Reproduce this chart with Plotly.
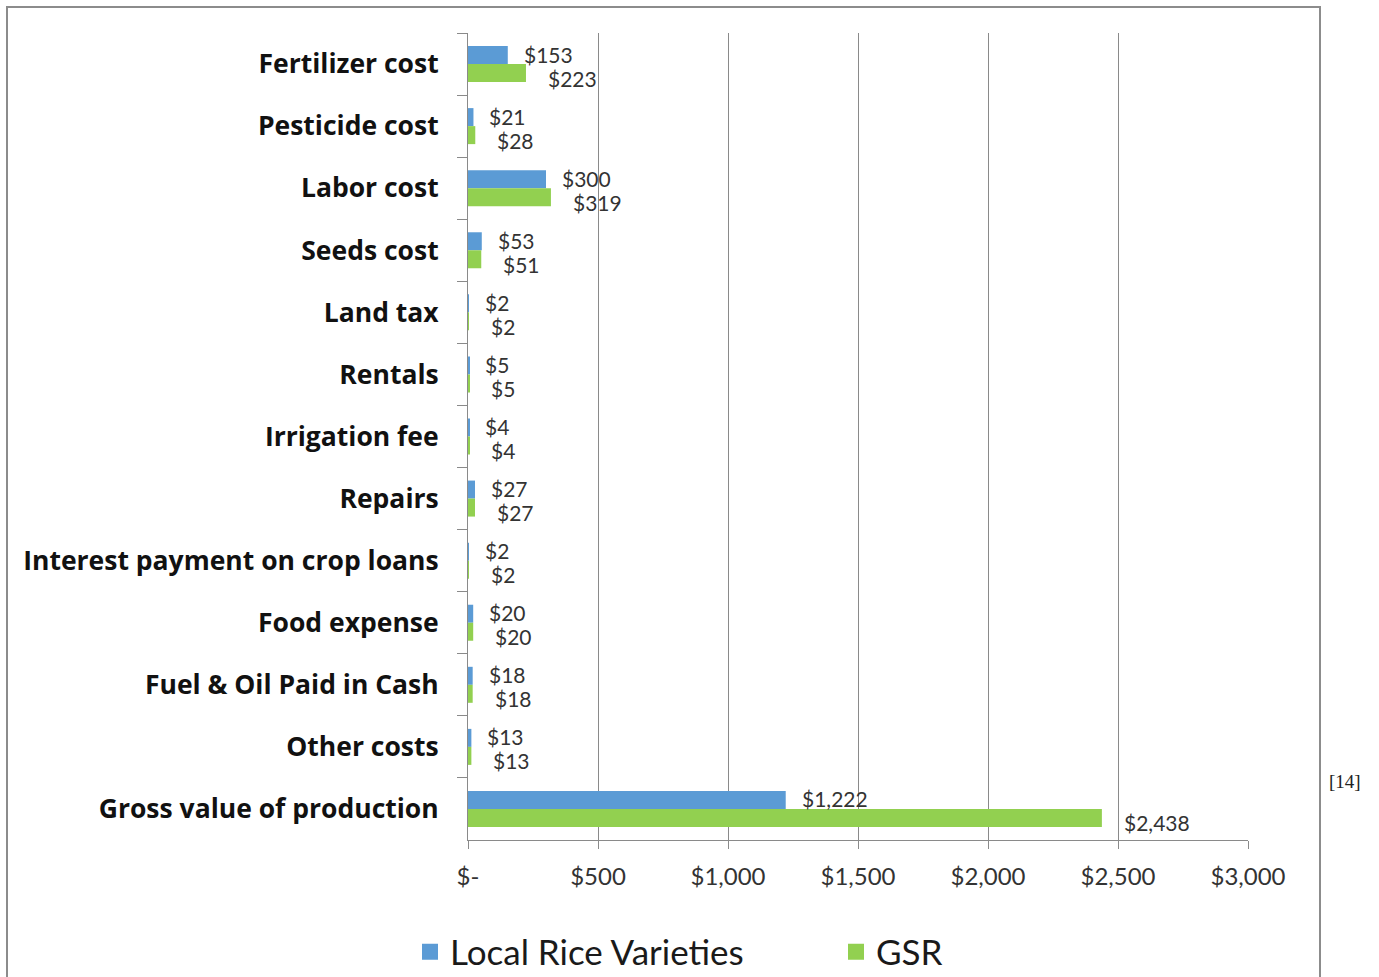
import plotly.graph_objects as go

# Cost items (top to bottom) and per-hectare values in USD
categories = [
    "Fertilizer cost", "Pesticide cost", "Labor cost", "Seeds cost", "Land tax",
    "Rentals", "Irrigation fee", "Repairs", "Interest payment on crop loans",
    "Food expense", "Fuel & Oil Paid in Cash", "Other costs", "Gross value of production",
]
local_rice = [153, 21, 300, 53, 2, 5, 4, 27, 2, 20, 18, 13, 1222]
gsr = [223, 28, 319, 51, 2, 5, 4, 27, 2, 20, 18, 13, 2438]

x_tick_vals = [0, 500, 1000, 1500, 2000, 2500, 3000]
x_tick_text = ["$-", "$500", "$1,000", "$1,500", "$2,000", "$2,500", "$3,000"]

BLUE = "#5B9BD5"
GREEN = "#92D050"
FONT = "Lato, 'Open Sans', sans-serif"
CAT_FONT = "'Open Sans', Lato, sans-serif"
W, H = 1379, 977
L, R, T, B = 468, 131, 33, 137
PW, PH = W - L - R, H - T - B


def px_x(p):
    return (p - L) / PW


def px_y(p):
    return (H - B - p) / PH


fig = go.Figure()
fig.add_trace(go.Bar(y=categories, x=local_rice, name="Local Rice Varieties",
                     orientation="h", showlegend=False,
                     marker=dict(color=BLUE, line=dict(width=0))))
fig.add_trace(go.Bar(y=categories, x=gsr, name="GSR",
                     orientation="h", showlegend=False,
                     marker=dict(color=GREEN, line=dict(width=0))))

# legend entries with larger square swatches
for name, color in [("Local Rice Varieties", BLUE), ("GSR", GREEN)]:
    fig.add_trace(go.Scatter(x=[None], y=[None], mode="markers", name=name,
                             marker=dict(symbol="square", size=20, color=color),
                             showlegend=True, hoverinfo="skip"))


def money(v):
    return f"${v:,}"


annotations = []
for cat, v in zip(categories, local_rice):
    annotations.append(dict(x=v, y=cat, text=money(v), xanchor="left", yanchor="middle",
                            xshift=14, yshift=10, showarrow=False,
                            font=dict(family=FONT, size=21, color="#333333")))
for cat, v in zip(categories, gsr):
    annotations.append(dict(x=v, y=cat, text=money(v), xanchor="left", yanchor="middle",
                            xshift=20, yshift=-14, showarrow=False,
                            font=dict(family=FONT, size=21, color="#333333")))

annotations.append(dict(xref="paper", yref="paper", x=px_x(1345), y=px_y(781),
                        text="[14]", showarrow=False, xanchor="center", yanchor="middle",
                        font=dict(family="Liberation Serif, serif", size=19, color="#222222")))

fig.update_layout(
    width=W, height=H,
    margin=dict(l=L, r=R, t=T, b=B, pad=0, autoexpand=False),
    paper_bgcolor="white", plot_bgcolor="white",
    barmode="group", bargap=0.42, bargroupgap=0,
    showlegend=True,
    legend=dict(orientation="h", x=px_x(410), y=px_y(952), xanchor="left", yanchor="middle",
                entrywidth=381, entrywidthmode="pixels", bgcolor="rgba(0,0,0,0)",
                font=dict(family=FONT, size=35, color="#1a1a1a"),
                itemsizing="trace", traceorder="normal"),
    annotations=annotations,
    shapes=[dict(type="rect", xref="paper", yref="paper",
                 x0=px_x(7), x1=px_x(1320), y0=px_y(1010), y1=px_y(7),
                 line=dict(color="#8c8c8c", width=2), fillcolor="rgba(0,0,0,0)",
                 layer="below")],
    xaxis=dict(range=[0, 3000], tickvals=x_tick_vals, ticktext=x_tick_text,
               showgrid=True, gridcolor="#8a8a8a", gridwidth=1,
               showline=True, linecolor="#8a8a8a", linewidth=1,
               ticks="outside", ticklen=8, tickcolor="#8a8a8a",
               ticklabelstandoff=7, zeroline=False,
               tickfont=dict(family=FONT, size=24, color="#333333")),
    yaxis=dict(autorange="reversed", showline=True, linecolor="#8a8a8a", linewidth=1,
               ticks="outside", ticklen=10, tickcolor="#8a8a8a", tickson="boundaries",
               ticklabelstandoff=23, showgrid=False,
               tickfont=dict(family=CAT_FONT, size=26.5, color="#111111", weight="bold")),
    font=dict(family=FONT),
)

fig.write_html("out.html")
